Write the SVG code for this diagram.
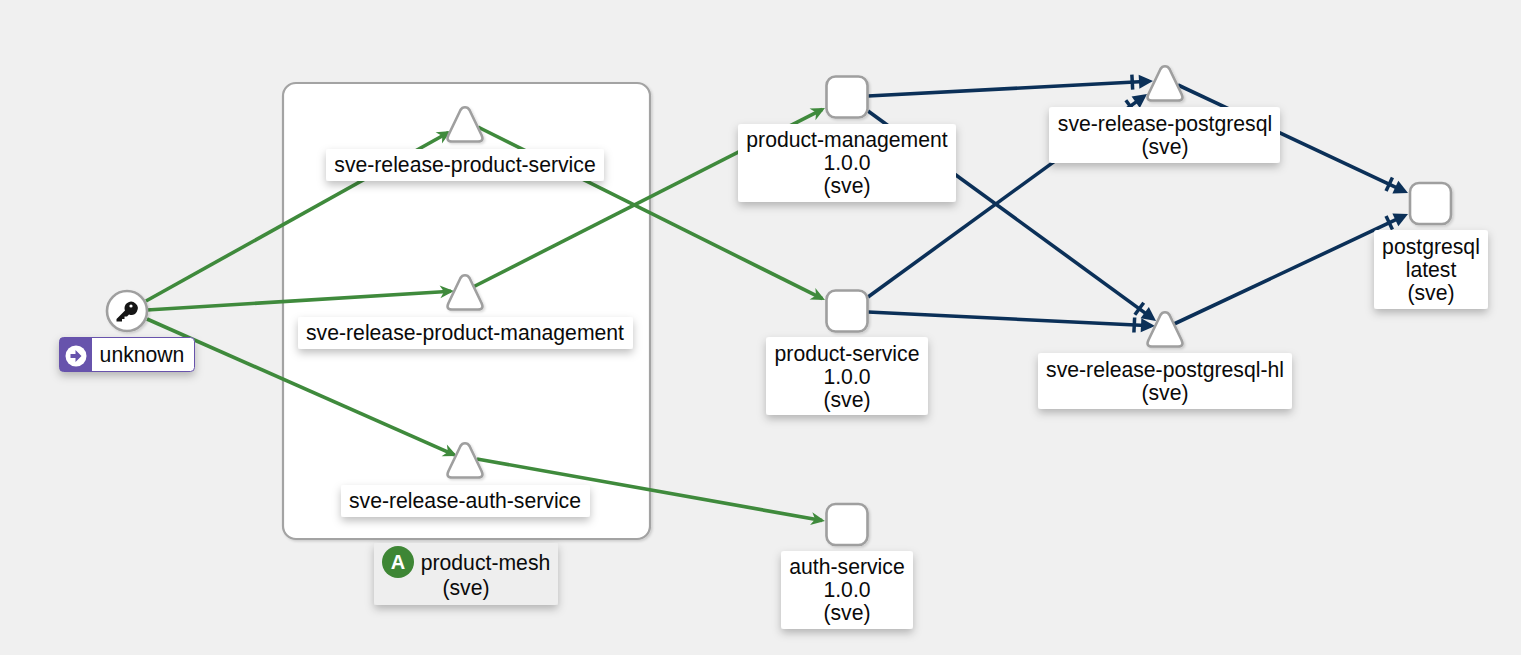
<svg xmlns="http://www.w3.org/2000/svg" width="1521" height="655" viewBox="0 0 1521 655">
<style>
text{font-family:"Liberation Sans",Arial,sans-serif;font-size:21.2px;fill:#0a0a0a;text-anchor:middle}
.lb{fill:#fff;filter:url(#sh)}
.shape{fill:#fff;stroke:#9f9f9f;stroke-width:2.6;stroke-linejoin:round;filter:url(#ns)}
.g{fill:none;stroke:#3f8a3c;stroke-width:3.6;marker-end:url(#ga)}
.b{fill:none;stroke:#0b3058;stroke-width:3.6;marker-end:url(#ba)}
</style>
<defs>
<filter id="sh" x="-15%" y="-30%" width="130%" height="170%"><feDropShadow dx="0" dy="4" stdDeviation="4" flood-color="#000" flood-opacity=".25"/></filter>
<filter id="ns" x="-20%" y="-20%" width="150%" height="150%"><feDropShadow dx="1.5" dy="1.5" stdDeviation="1" flood-color="#000" flood-opacity=".15"/></filter>
<marker id="ga" markerUnits="userSpaceOnUse" markerWidth="20" markerHeight="16" refX="11" refY="8" orient="auto" overflow="visible"><path d="M0,1.500L14,8L0,14.500L4,8Z" fill="#3f8a3c"/></marker>
<marker id="ba" markerUnits="userSpaceOnUse" markerWidth="26" markerHeight="18" refX="19" refY="9" orient="auto" overflow="visible"><path d="M9,2L23,9L9,16Z" fill="#0b3058"/><rect x="0.500" y="1.500" width="3.500" height="15" fill="#0b3058"/></marker>
<path id="tri" d="M465,107.300Q468,107.300 469.500,110L481.500,135Q484.500,141.500 478,141.500H452Q445.500,141.500 448.500,135L460.500,110Q462,107.300 465,107.300Z"/>
</defs>
<rect width="1521" height="655" fill="#f0f0f0"/>
<g id="product-mesh-box"><rect x="283" y="83" width="367" height="456" rx="13" fill="#fff" stroke="#a3a3a3" stroke-width="2.2" filter="url(#ns)"/></g>
<g id="connectors">
<path class="g" d="M146,301L448.4,132.5"/>
<path class="g" d="M147,310L451,291.2"/>
<path class="g" d="M147,319L454.3,454.8"/>
<path class="g" d="M478,127L822.3,298.7"/>
<path class="g" d="M473,287L822.3,109.4"/>
<path class="g" d="M477,459L822,520.5"/>
<path class="b" d="M868,96L1149,81.2"/>
<path class="b" d="M868,111L1152.8,318.6"/>
<path class="b" d="M868,297L1143.8,96.4"/>
<path class="b" d="M868,312L1151,325.8"/>
<path class="b" d="M1178,85L1404.4,191.3"/>
<path class="b" d="M1174,324L1404.4,215.7"/>
</g>
<g id="unknown">
<circle class="shape" cx="127" cy="311" r="20"/>
<path d="M135.500,304.500a6.500,6.500 0 0 0 -11,4.500a6.500,6.500 0 0 0 .5,2.500l-8.500,8.500v2.500h5.500v-2.500h2.500v-2.500h2.500l2,-2a6.500,6.500 0 0 0 6.500,-11z" fill="#151515" transform="translate(0,-1)"/>
<circle cx="131" cy="306" r="1.600" fill="#fff"/>
<rect x="59.500" y="337.500" width="135" height="34" rx="4" fill="#fff" stroke="#6753ac" filter="url(#sh)"/>
<path d="M63.500,337.500H92V371.500H63.500a4,4 0 0 1-4-4V341.500a4,4 0 0 1 4-4z" fill="#6753ac"/>
<circle cx="76" cy="356" r="10.500" fill="#fff"/>
<path d="M70.500,354h5v-4l6,6l-6,6v-4h-5z" fill="#6753ac"/>
<text x="142" y="362">unknown</text>
</g>
<g id="sve-release-product-service">
<use class="shape" href="#tri"/>
<rect class="lb" x="326" y="149" width="278" height="32" rx="3"/>
<text x="465" y="172">sve-release-product-service</text>
</g>
<g id="sve-release-product-management">
<use class="shape" href="#tri" y="168"/>
<rect class="lb" x="298" y="317" width="335" height="32" rx="3"/>
<text x="465" y="340">sve-release-product-management</text>
</g>
<g id="sve-release-auth-service">
<use class="shape" href="#tri" y="336"/>
<rect class="lb" x="341" y="485" width="249" height="32" rx="3"/>
<text x="465" y="508">sve-release-auth-service</text>
</g>
<g id="product-mesh">
<rect x="374" y="543" width="184" height="62" rx="3" fill="#eee" filter="url(#sh)"/>
<circle cx="398" cy="562" r="16" fill="#3e8635"/>
<text x="398" y="569" style="fill:#fff;font-size:20px;font-weight:bold">A</text>
<text x="485.500" y="570">product-mesh</text>
<text x="466" y="595">(sve)</text>
</g>
<g id="product-management">
<rect class="shape" x="826.500" y="76.500" width="41" height="41" rx="9"/>
<rect class="lb" x="738" y="124" width="218" height="78" rx="3"/>
<text x="847" y="147">product-management</text>
<text x="847" y="170">1.0.0</text>
<text x="847" y="193">(sve)</text>
</g>
<g id="product-service">
<rect class="shape" x="826.500" y="290.500" width="41" height="41" rx="9"/>
<rect class="lb" x="766" y="337" width="162" height="78" rx="3"/>
<text x="847" y="361">product-service</text>
<text x="847" y="384">1.0.0</text>
<text x="847" y="407">(sve)</text>
</g>
<g id="auth-service">
<rect class="shape" x="826.500" y="504" width="41" height="41" rx="9"/>
<rect class="lb" x="781" y="551" width="132" height="78" rx="3"/>
<text x="847" y="574">auth-service</text>
<text x="847" y="597">1.0.0</text>
<text x="847" y="620">(sve)</text>
</g>
<g id="sve-release-postgresql">
<use class="shape" href="#tri" x="700" y="-41"/>
<rect class="lb" x="1049" y="107" width="231" height="56" rx="3"/>
<text x="1165" y="131">sve-release-postgresql</text>
<text x="1165" y="154">(sve)</text>
</g>
<g id="sve-release-postgresql-hl">
<use class="shape" href="#tri" x="700" y="205"/>
<rect class="lb" x="1038" y="353" width="254" height="56" rx="3"/>
<text x="1165" y="377">sve-release-postgresql-hl</text>
<text x="1165" y="400">(sve)</text>
</g>
<g id="postgresql">
<rect class="shape" x="1410" y="183" width="41" height="41" rx="9"/>
<rect class="lb" x="1374" y="230" width="114" height="79" rx="3"/>
<text x="1431" y="254">postgresql</text>
<text x="1431" y="277">latest</text>
<text x="1431" y="300">(sve)</text>
</g>
</svg>
